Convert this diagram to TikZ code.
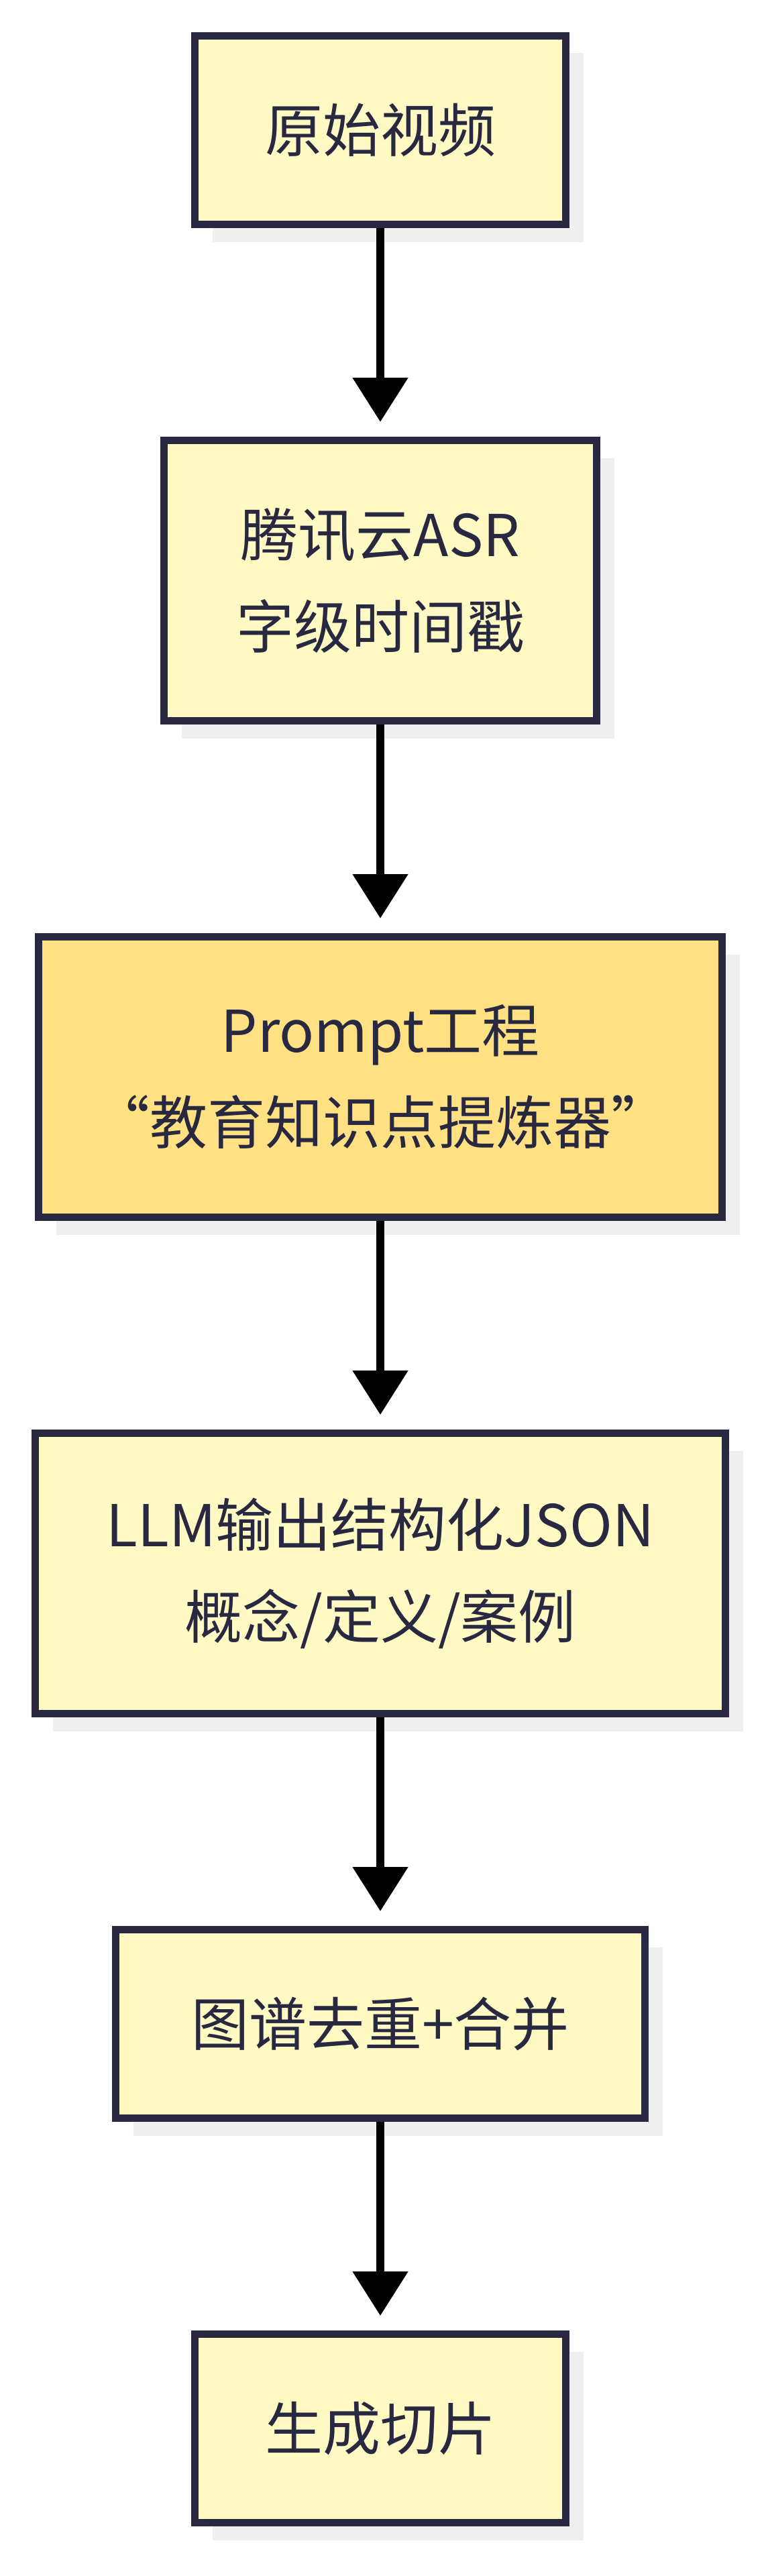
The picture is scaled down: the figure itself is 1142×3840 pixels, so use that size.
\documentclass[tikz,border=0pt]{standalone}
\usepackage{fontspec}
\setmainfont{Noto Sans CJK SC}
\usetikzlibrary{positioning,arrows.meta,shadows}
\definecolor{ink}{HTML}{282840}
\definecolor{paleyellow}{HTML}{FFF9C4}
\definecolor{amber}{HTML}{FFE082}
\definecolor{shade}{HTML}{EFEFEF}

\tikzset{
	box/.style={draw=ink, line width=11pt, fill=paleyellow, text=ink, inner sep=0pt,
		align=center, font=\fontsize{86}{137}\selectfont,
		drop shadow={shadow xshift=26pt, shadow yshift=-26pt, fill=shade, opacity=1}},
	flow/.style={line width=12pt, -{Triangle[width=80pt,length=66pt]}, shorten >=22pt},
}

\begin{document}
\begin{tikzpicture}
	\useasboundingbox (0,0) rectangle (1142pt,-3840pt);
	\node[box, minimum width=553pt, minimum height=281pt] (raw) at (567pt,-194pt) {原始视频};
	\node[box, minimum width=645pt, minimum height=418pt, below=311pt of raw] (asr) {腾讯云ASR\\字级时间戳};
	\node[box, fill=amber, minimum width=1019pt, minimum height=418pt, below=311pt of asr] (prompt) {Prompt工程\\“教育知识点提炼器”};
	\node[box, minimum width=1029pt, minimum height=418pt, below=311pt of prompt] (llm) {LLM输出结构化JSON\\概念/定义/案例};
	\node[box, minimum width=789pt, minimum height=281pt, below=311pt of llm] (merge) {图谱去重+合并};
	\node[box, minimum width=553pt, minimum height=281pt, below=311pt of merge] (slice) {生成切片};
	%
	\draw[flow] (raw) -- (asr);
	\draw[flow] (asr) -- (prompt);
	\draw[flow] (prompt) -- (llm);
	\draw[flow] (llm) -- (merge);
	\draw[flow] (merge) -- (slice);
\end{tikzpicture}
\end{document}
